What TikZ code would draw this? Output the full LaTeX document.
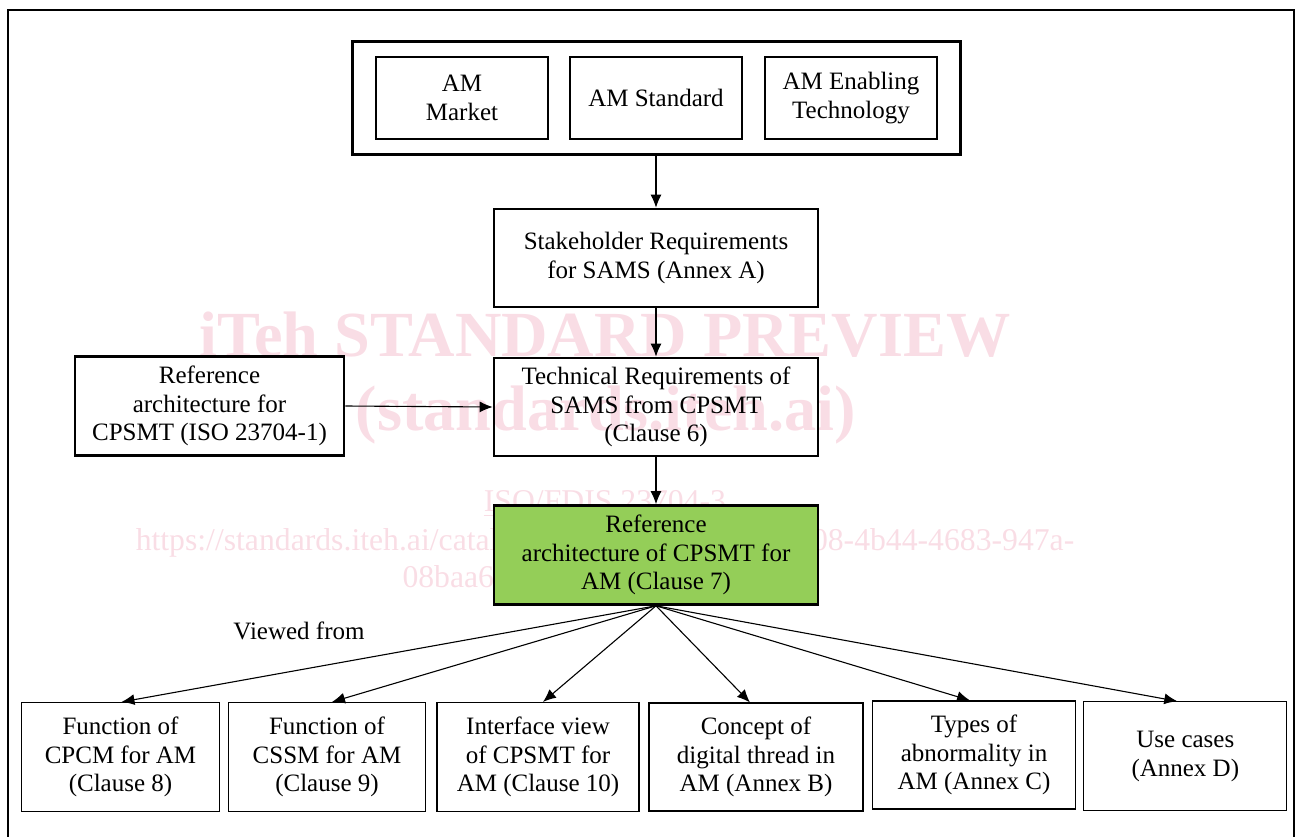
\documentclass[tikz,border=0pt]{standalone}
\usepackage{fontspec}
\setmainfont{Liberation Serif}
\usetikzlibrary{arrows.meta}
\definecolor{wmpink}{RGB}{249,221,229}
\definecolor{boxgreen}{RGB}{148,206,88}
\tikzset{
  txt/.style={font=\fontsize{25}{28.7}\selectfont, align=center, inner sep=0pt},
  thinbox/.style={txt, draw=black, line width=1.1pt},
  thickbox/.style={txt, draw=black, line width=2.6pt},
  groupbox/.style={draw=black, line width=3pt, inner sep=0pt},
  conn/.style={draw=black, line width=1.1pt, -{Latex[length=13pt,width=11pt]}},
  wmbig/.style={text=wmpink, font=\fontsize{64.3}{70}\selectfont\bfseries, inner sep=0pt, anchor=base},
  wmsmall/.style={text=wmpink, font=\fontsize{31.7}{36}\selectfont, inner sep=0pt, anchor=base},
}
\begin{document}
\begin{tikzpicture}[x=1pt,y=-1pt]
\useasboundingbox (0,0) rectangle (1298,837);
% outer frame (bottom edge lies outside the picture)
\draw[line width=2.6pt] (8,837) -- (8,10) -- (1294,10) -- (1294,837);

% watermark
\node[wmbig] (wm1) at (605,356) {iTeh STANDARD PREVIEW};
\node[wmbig] (wm2) at (606,430) {(standards.iteh.ai)};
\node[wmsmall] (wm3) at (605,511) {ISO/FDIS 23704-3};
\draw[wmpink, line width=1.6pt] ([yshift=-4.5pt]wm3.base west) -- ([yshift=-4.5pt]wm3.base east);
\node[wmsmall] (wm4) at (605,550) {https://standards.iteh.ai/catalog/standards/sist/8d75eb08-4b44-4683-947a-};
\node[wmsmall] (wm5) at (605,587) {08baa6b3a594/iso-fdis-23704-3};

% top group
\node[groupbox, minimum width=608pt, minimum height=113pt] (grp) at (656,98.3) {};
\node[thinbox, minimum width=172pt, minimum height=82pt] (mkt) at (462,98) {AM\\Market};
\node[thinbox, minimum width=172pt, minimum height=82pt] (std) at (656,98) {AM Standard};
\node[thinbox, minimum width=172pt, minimum height=82pt] (ent) at (851,98) {AM Enabling\\Technology};

% main chain
\node[thickbox, minimum width=324pt, minimum height=98pt] (stake) at (656,258) {Stakeholder Requirements\\for SAMS (Annex A)};
\node[thickbox, minimum width=324pt, minimum height=98pt] (techreq) at (656,407) {Technical Requirements of\\SAMS from CPSMT\\(Clause 6)};
\node[thickbox, minimum width=269pt, minimum height=99pt] (refarch) at (209.5,406) {Reference\\architecture for\\CPSMT (ISO 23704-1)};
\node[thickbox, fill=boxgreen, minimum width=324pt, minimum height=99pt] (refam) at (656,555) {Reference\\architecture of CPSMT for\\AM (Clause 7)};

\node[txt] (viewed) at (299,631) {Viewed from};

% bottom row
\node[thinbox, minimum width=198pt, minimum height=109pt] (b1) at (120.5,757) {Function of\\CPCM for AM\\(Clause 8)};
\node[thinbox, minimum width=197pt, minimum height=109pt] (b2) at (327,757) {Function of\\CSSM for AM\\(Clause 9)};
\node[thinbox, minimum width=202pt, minimum height=109pt] (b3) at (538,757) {Interface view\\of CPSMT for\\AM (Clause 10)};
\node[thinbox, minimum width=214pt, minimum height=108pt] (b4) at (756,757) {Concept of\\digital thread in\\AM (Annex B)};
\node[thinbox, minimum width=203pt, minimum height=108pt] (b5) at (974,755) {Types of\\abnormality in\\AM (Annex C)};
\node[thinbox, minimum width=203pt, minimum height=109pt] (b6) at (1185.3,756.3) {Use cases\\(Annex D)};

% connectors
\draw[conn] (grp.south) -- (stake.north);
\draw[conn] (stake.south) -- (techreq.north);
\draw[conn] (techreq.south) -- (refam.north);
\draw[conn] (refarch.east) -- (techreq.west);
\draw[conn] (refam.south) -- ([xshift=1pt]b1.north);
\draw[conn] (refam.south) -- ([xshift=5pt]b2.north);
\draw[conn] (refam.south) -- ([xshift=5pt]b3.north);
\draw[conn] (refam.south) -- ([xshift=-6pt]b4.north);
\draw[conn] (refam.south) -- ([xshift=-4pt]b5.north);
\draw[conn] (refam.south) -- ([xshift=-8pt]b6.north);
\end{tikzpicture}
\end{document}
